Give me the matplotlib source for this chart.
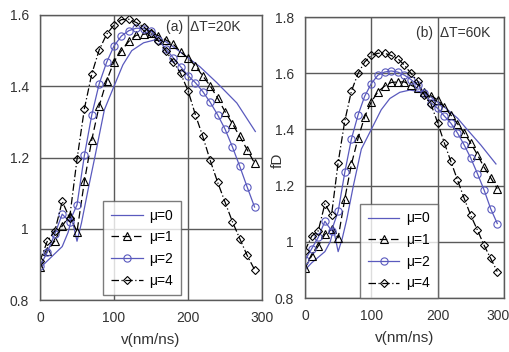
import matplotlib
matplotlib.use("Agg")
import matplotlib.pyplot as plt
from matplotlib.transforms import ScaledTranslation

plt.rcParams['font.family'] = ['Liberation Sans', 'DejaVu Sans']

# ---------------- data ----------------
x_mk = [0, 10, 20, 30, 40, 50, 60, 70, 80, 90, 100, 110, 120, 130, 140, 150,
        160, 170, 180, 190, 200, 210, 220, 230, 240, 250, 260, 270, 280, 290]

# panel (a) dT=20K
a_mu0_x = [0, 10, 20, 30, 38, 43, 50, 56, 65, 74, 87, 100, 112, 124, 140, 155,
           170, 180, 200, 216, 239, 266, 291]
a_mu0_y = [0.89, 0.91, 0.93, 0.95, 0.99, 1.03, 0.965, 1.016, 1.11, 1.2, 1.334, 1.4,
           1.46, 1.5, 1.522, 1.53, 1.525, 1.511, 1.48, 1.455, 1.41, 1.353, 1.273]
a_mu1 = [0.894, 0.938, 0.966, 1.008, 1.037, 0.992, 1.133, 1.25, 1.345, 1.415, 1.469,
         1.5, 1.526, 1.543, 1.546, 1.549, 1.542, 1.53, 1.518, 1.497, 1.479, 1.457,
         1.429, 1.401, 1.367, 1.329, 1.295, 1.259, 1.222, 1.184]
a_mu2 = [0.895, 0.935, 0.985, 1.041, 1.02, 1.067, 1.206, 1.32, 1.407, 1.467, 1.513,
         1.541, 1.556, 1.563, 1.562, 1.555, 1.53, 1.505, 1.48, 1.455, 1.43, 1.41,
         1.385, 1.355, 1.32, 1.28, 1.23, 1.175, 1.117, 1.061]
a_mu4 = [0.91, 0.966, 0.993, 1.077, 1.03, 1.195, 1.337, 1.435, 1.502, 1.546, 1.572,
         1.587, 1.588, 1.579, 1.567, 1.549, 1.527, 1.499, 1.469, 1.436, 1.388, 1.32,
         1.259, 1.192, 1.131, 1.075, 1.02, 0.972, 0.925, 0.885]

# panel (b) dT=60K
b_mu0_x = [0, 10, 20, 30, 38, 43, 50, 56, 63, 73, 85, 100, 115, 128, 143, 158,
           175, 190, 210, 230, 243, 265, 288]
b_mu0_y = [0.9, 0.925, 0.945, 0.965, 1.0, 1.045, 0.965, 1.01, 1.08, 1.2, 1.33, 1.4,
           1.47, 1.51, 1.532, 1.54, 1.534, 1.515, 1.48, 1.44, 1.404, 1.345, 1.277]
b_mu1 = [0.906, 0.95, 0.985, 1.027, 1.045, 1.014, 1.153, 1.276, 1.368, 1.445, 1.498,
         1.534, 1.554, 1.567, 1.569, 1.569, 1.557, 1.546, 1.532, 1.52, 1.505, 1.48,
         1.451, 1.42, 1.387, 1.351, 1.31, 1.266, 1.228, 1.189]
b_mu2 = [0.935, 0.975, 1.016, 1.073, 1.04, 1.108, 1.247, 1.366, 1.451, 1.518, 1.563,
         1.593, 1.604, 1.608, 1.604, 1.593, 1.577, 1.557, 1.53, 1.495, 1.475, 1.448,
         1.422, 1.387, 1.345, 1.298, 1.243, 1.185, 1.118, 1.065]
b_mu4 = [0.968, 1.02, 1.039, 1.135, 1.095, 1.282, 1.43, 1.536, 1.599, 1.64, 1.663,
         1.671, 1.671, 1.663, 1.652, 1.628, 1.599, 1.572, 1.522, 1.49, 1.424, 1.353,
         1.286, 1.22, 1.155, 1.094, 1.042, 0.988, 0.941, 0.894]

labels = ['\u03bc=0', '\u03bc=1', '\u03bc=2', '\u03bc=4']
a_yticks = [0.8, 1, 1.2, 1.4, 1.6]
b_yticks = [0.8, 1, 1.2, 1.4, 1.6, 1.8]
xticks = [0, 100, 200, 300]

BLUE = '#5a5abe'
GRID = '#5a5a5a'
TXT = '#333333'

fig = plt.figure(figsize=(5.09, 3.52), dpi=100)
axa = fig.add_axes([0.0786, 0.1477, 0.4361, 0.8097])
axb = fig.add_axes([0.5992, 0.1534, 0.3908, 0.7983])


def draw(ax, m0x, m0y, m1, m2, m4, ylim, yticks, title, tpos, legx, legpad):
    ax.plot(m0x, m0y, '-', color=BLUE, lw=0.9, label=labels[0])
    ax.plot(x_mk, m1, linestyle=(0, (6, 3)), color='black', lw=0.9, marker='^',
            ms=5.5, mfc='none', mec='black', mew=0.8, label=labels[1])
    ax.plot(x_mk, m2, '-', color=BLUE, lw=0.9, marker='o', ms=5.2,
            mfc='none', mec=BLUE, mew=0.8, label=labels[2])
    ax.plot(x_mk, m4, linestyle=(0, (6, 2, 1, 2)), color='black', lw=0.9, marker='D',
            ms=4.2, mfc='none', mec='black', mew=0.8, label=labels[3])
    ax.set_xlim(0, 300)
    ax.set_ylim(*ylim)
    ax.set_xticks(xticks)
    ax.set_yticks(yticks)
    ax.set_yticklabels([('%g' % t) for t in yticks])
    ax.grid(True, color=GRID, lw=1.0)
    ax.set_axisbelow(True)
    for s in ax.spines.values():
        s.set_color(GRID)
        s.set_linewidth(1.0)
    ax.tick_params(length=0, labelsize=10, colors=TXT, pad=8)
    ax.set_xlabel('v(nm/ns)', fontsize=11, color=TXT, labelpad=6)
    ax.text(tpos[0], tpos[1], title, transform=ax.transAxes, ha='right', va='center',
            fontsize=10, color=TXT)
    leg = ax.legend(loc='lower left', bbox_to_anchor=(legx, 0.0), frameon=True,
                    fancybox=False, edgecolor=GRID, fontsize=10, handlelength=2.3,
                    borderpad=0.55, labelspacing=0.55, handletextpad=0.5,
                    borderaxespad=legpad)
    leg.get_frame().set_linewidth(1.0)


draw(axa, a_mu0_x, a_mu0_y, a_mu1, a_mu2, a_mu4, (0.8, 1.6), a_yticks,
     '(a)  \u0394T=20K', (0.905, 0.958), 0.262, 0.35)
draw(axb, b_mu0_x, b_mu0_y, b_mu1, b_mu2, b_mu4, (0.8, 1.8), b_yticks,
     '(b)  \u0394T=60K', (0.93, 0.943), 0.276, 0.0)

# keep the last tick label of panel (b) inside the canvas
last = axb.xaxis.get_major_ticks()[-1].label1
last.set_transform(last.get_transform() + ScaledTranslation(-6 / 100, 0, fig.dpi_scale_trans))

fig.text(278 / 509, 1 - 160 / 352, 'fD', rotation=90, ha='center', va='center',
         fontsize=11, color=TXT)

fig.savefig('out.png', dpi=100, facecolor='white')
